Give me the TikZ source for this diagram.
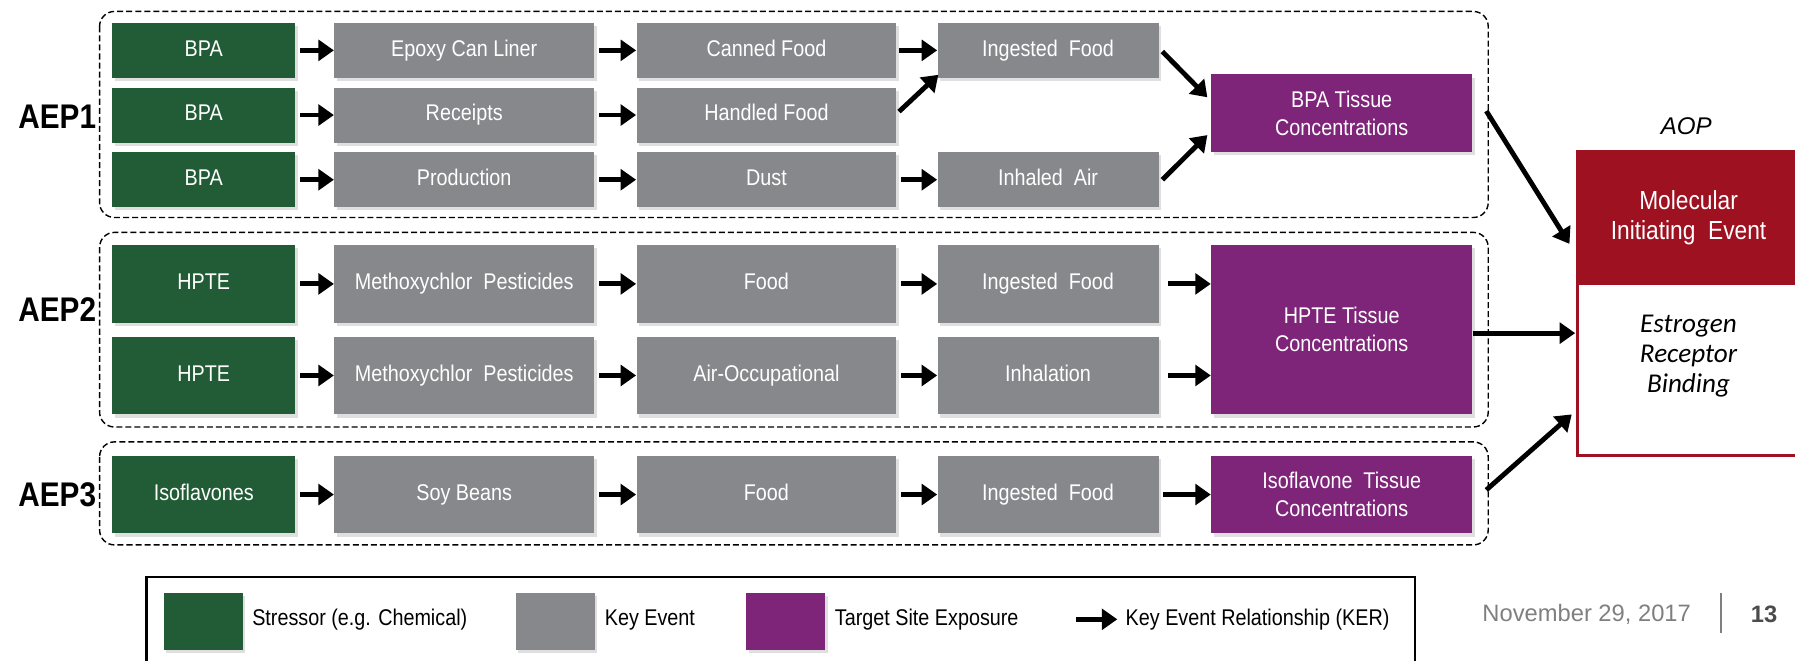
\documentclass[tikz,border=0pt]{standalone}
\usepackage{fontspec}
\newfontfamily\narfont{Liberation Sans}[FakeStretch=0.87]
\newfontfamily\regfont{Liberation Sans}
\newfontfamily\calibfont{Carlito}
\usetikzlibrary{arrows.meta,shadows,calc}
\definecolor{stgreen}{HTML}{225C36}
\definecolor{kegray}{HTML}{87888C}
\definecolor{tspurple}{HTML}{7E2479}
\definecolor{miered}{HTML}{9E1120}
\definecolor{dategray}{HTML}{7F7F7F}
\begin{document}
\begin{tikzpicture}[x=0.02cm,y=-0.02cm,
  box/.style={minimum height=0.96cm, inner sep=0pt, text=white,
    font=\narfont\fontsize{11.3}{14}\selectfont, align=center,
    drop shadow={opacity=0.25,shadow xshift=1.2pt,shadow yshift=-1.6pt}},
  oneline/.style={text height=8.2pt, text depth=2.4pt},
  stressor/.style={box, oneline, fill=stgreen, minimum width=3.2cm},
  ke/.style={box, oneline, fill=kegray, minimum width=4.54cm},
  kes/.style={box, oneline, fill=kegray, minimum width=3.86cm},
  tse/.style={box, fill=tspurple, minimum width=4.56cm},
  tall/.style={minimum height=1.36cm},
  ker/.style={line width=0.085cm, -{Triangle[length=0.27cm,width=0.36cm]}},
  aepbox/.style={draw, dash pattern=on 3pt off 1.5pt, rounded corners=0.26cm, line width=0.7pt},
  aeplabel/.style={font=\narfont\bfseries\fontsize{17}{20}\selectfont},
  legtext/.style={anchor=west, inner sep=0pt, oneline, font=\narfont\fontsize{11.3}{14}\selectfont},
  legsq/.style={minimum width=1.38cm, minimum height=1cm, inner sep=0pt,
    drop shadow={opacity=0.25,shadow xshift=1.2pt,shadow yshift=-1.6pt}}
]
\useasboundingbox (0,0) rectangle (1568,577);

% dashed AEP boxes
\draw[aepbox] (87,10) rectangle (1300,190);
\draw[aepbox] (87,203) rectangle (1300,373);
\draw[aepbox] (87,386) rectangle (1300,476);

\node[aeplabel] (aep1) at (50,102) {AEP1};
\node[aeplabel] (aep2) at (50,270) {AEP2};
\node[aeplabel] (aep3) at (50,432) {AEP3};

% AEP1
\node[stressor] (s11) at (178,44) {BPA};
\node[stressor] (s12) at (178,100.5) {BPA};
\node[stressor] (s13) at (178,157) {BPA};
\node[ke] (k11) at (405.5,44) {Epoxy Can Liner};
\node[ke] (k12) at (405.5,100.5) {Receipts};
\node[ke] (k13) at (405.5,157) {Production};
\node[ke] (c11) at (669.5,44) {Canned Food};
\node[ke] (c12) at (669.5,100.5) {Handled Food};
\node[ke] (c13) at (669.5,157) {Dust};
\node[kes] (d11) at (915.5,44) {Ingested\ \ Food};
\node[kes] (d13) at (915.5,157) {Inhaled\ \ Air};
\node[tse, minimum height=1.36cm] (t1) at (1172,99) {BPA Tissue\\Concentrations};

\draw[ker] ($(s11.east)+(4,0)$) -- (k11.west);
\draw[ker] ($(s12.east)+(4,0)$) -- (k12.west);
\draw[ker] ($(s13.east)+(4,0)$) -- (k13.west);
\draw[ker] ($(k11.east)+(4,0)$) -- (c11.west);
\draw[ker] ($(k12.east)+(4,0)$) -- (c12.west);
\draw[ker] ($(k13.east)+(4,0)$) -- (c13.west);
\draw[ker] ($(c11.east)+(2,0)$) -- (d11.west);
\draw[ker] ($(c13.east)+(4,0)$) -- (d13.west);
\draw[ker] ($(c12.east)+(2,-3)$) -- ($(d11.south west)+(1,-3)$);
\draw[ker] ($(d11.east)+(3,1)$) -- ($(t1.west)+(-3,-14)$);
\draw[ker] ($(d13.east)+(3,0)$) -- ($(t1.west)+(-3,19)$);

% AEP2
\node[stressor, tall] (s21) at (178,248) {HPTE};
\node[stressor, tall] (s22) at (178,328) {HPTE};
\node[ke, tall] (k21) at (405.5,248) {Methoxychlor\ \ Pesticides};
\node[ke, tall] (k22) at (405.5,328) {Methoxychlor\ \ Pesticides};
\node[ke, tall] (c21) at (669.5,248) {Food};
\node[ke, tall] (c22) at (669.5,328) {Air-Occupational};
\node[kes, tall] (d21) at (915.5,248) {Ingested\ \ Food};
\node[kes, tall] (d22) at (915.5,328) {Inhalation};
\node[tse, minimum height=2.96cm] (t2) at (1172,288) {HPTE Tissue\\Concentrations};

\draw[ker] ($(s21.east)+(4,0)$) -- (k21.west);
\draw[ker] ($(s22.east)+(4,0)$) -- (k22.west);
\draw[ker] ($(k21.east)+(4,0)$) -- (c21.west);
\draw[ker] ($(k22.east)+(4,0)$) -- (c22.west);
\draw[ker] ($(c21.east)+(4,0)$) -- (d21.west);
\draw[ker] ($(c22.east)+(4,0)$) -- (d22.west);
\draw[ker] ($(d21.east)+(8,0)$) -- (t2.west |- d21.east);
\draw[ker] ($(d22.east)+(8,0)$) -- (t2.west |- d22.east);

% AEP3
\node[stressor, tall] (s31) at (178,432) {Isoflavones};
\node[ke, tall] (k31) at (405.5,432) {Soy Beans};
\node[ke, tall] (c31) at (669.5,432) {Food};
\node[kes, tall] (d31) at (915.5,432) {Ingested\ \ Food};
\node[tse, tall] (t3) at (1172,432) {Isoflavone\ \ Tissue\\Concentrations};

\draw[ker] ($(s31.east)+(4,0)$) -- (k31.west);
\draw[ker] ($(k31.east)+(4,0)$) -- (c31.west);
\draw[ker] ($(c31.east)+(4,0)$) -- (d31.west);
\draw[ker] ($(d31.east)+(4,0)$) -- (t3.west);

% AOP / MIE
\node[font=\regfont\itshape\fontsize{12}{14}\selectfont] (aop) at (1473,110) {AOP};
\node[fill=miered, draw=miered, line width=1.2pt, minimum width=3.88cm, minimum height=2.32cm,
  inner sep=0pt, text=white, align=center, font=\narfont\fontsize{13}{15}\selectfont] (mie) at (1475,190)
  {Molecular\\Initiating\ \ Event};
\node[fill=white, draw=miered, line width=1.2pt, minimum width=3.88cm, minimum height=3cm,
  inner sep=0pt] (erb) at (1475,323) {};
\node[align=center, inner sep=0pt, font=\calibfont\itshape\fontsize{13.5}{15}\selectfont] (erbtext) at (1475,311)
  {Estrogen\\Receptor\\Binding};

\draw[ker] ($(t1.east)+(12,-2)$) -- ($(mie.south west)+(-6,-36)$);
\draw[ker] ($(t2.east)+(0,3)$) -- ($(erb.west)+(-1,-32)$);
\draw[ker] ($(t3.east)+(12,-4)$) -- ($(erb.west)+(-4,39)$);

% legend
\draw[line width=1.2pt] (128,504) rectangle (1236,595);
\node[legsq, fill=stgreen] (lg1) at (177.5,543) {};
\node[legtext] (lt1) at (220,541) {Stressor (e.g. Chemical)};
\node[legsq, fill=kegray] (lg2) at (485,543) {};
\node[legtext] (lt2) at (528,541) {Key Event};
\node[legsq, fill=tspurple] (lg3) at (686.5,543) {};
\node[legtext] (lt3) at (729,541) {Target Site Exposure};
\coordinate (la) at (940,541);
\node[legtext] (lt4) at (983,541) {Key Event Relationship (KER)};
\draw[ker] (la) -- ($(lt4.west)+(-7,0)$);

% footer
\node[font=\regfont\fontsize{11.8}{14}\selectfont, text=dategray] (date) at (1386,537) {November 29, 2017};
\draw[dategray, line width=1pt] (1503,518) -- (1503,553);
\node[font=\regfont\bfseries\fontsize{11.8}{14}\selectfont, text=dategray!60!black] (page) at (1541,537) {13};
\end{tikzpicture}
\end{document}
